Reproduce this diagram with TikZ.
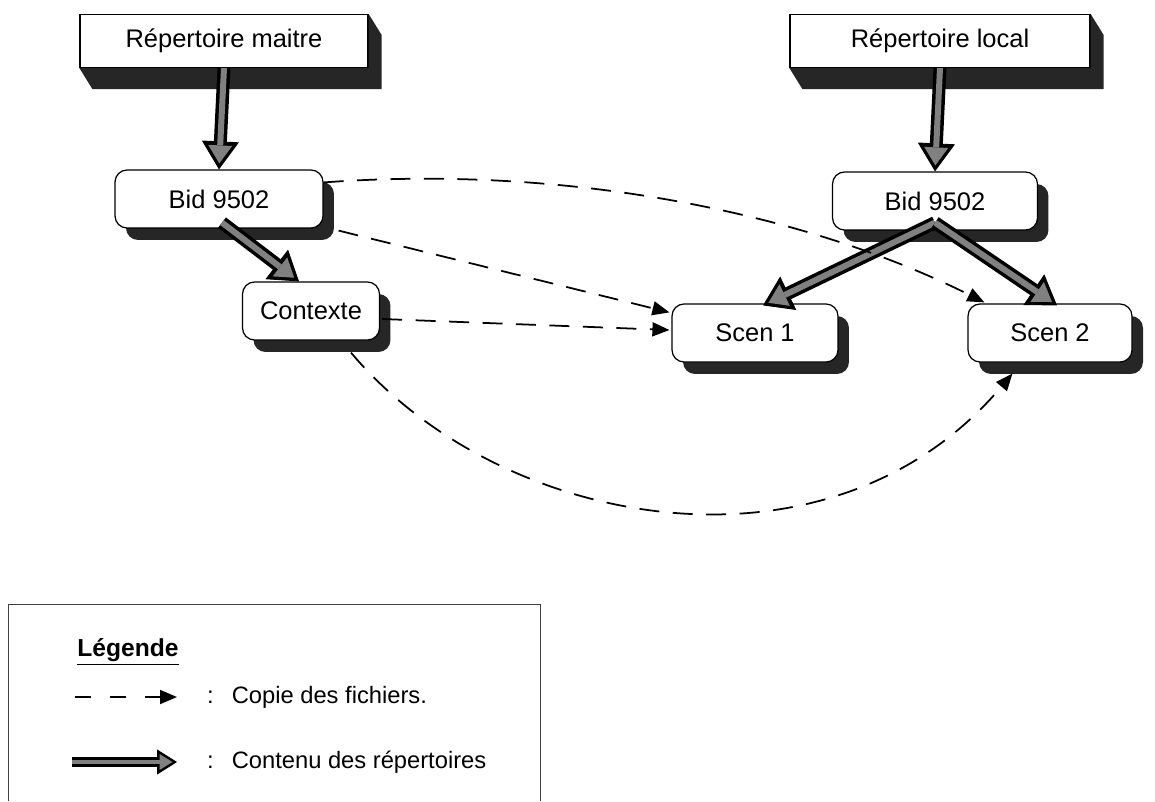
\documentclass[tikz,border=0pt]{standalone}
\usepackage{fontspec}
\setmainfont{Liberation Sans}
\usetikzlibrary{arrows.meta,calc,shadows}

\tikzset{
  repbox/.style={draw=black, line width=0.7pt, fill=white, minimum height=1.06cm},
  dirbox/.style={draw=black, line width=0.7pt, fill=white, rounded corners=0.24cm,
    minimum height=1.16cm,
    drop shadow={shadow xshift=0.22cm, shadow yshift=-0.24cm, fill=black!85, opacity=1}},
  copyarrow/.style={line width=1pt, dash pattern=on 0.4cm off 0.27cm,
    -{Triangle[length=0.34cm,width=0.28cm]}},
  contarrow/.style={line width=0.26cm, -{Triangle[length=0.56cm,width=0.74cm,line width=0.5pt]},
    postaction={draw=black!50, line width=0.12cm, shorten >=0.12cm,
      -{Triangle[length=0.36cm,width=0.48cm,line width=0pt]}}},
  legarrow/.style={line width=0.2cm, -{Triangle[length=0.4cm,width=0.5cm,line width=0.5pt]},
    postaction={draw=black!50, line width=0.09cm, shorten >=0.09cm,
      -{Triangle[length=0.26cm,width=0.32cm,line width=0pt]}}}
}

% slab under a directory box
\newcommand{\slab}[1]{%
  \fill[black!85] (#1.south west) -- ++(13,21) -- ($(#1.south east)+(13,21)$)
    -- ($(#1.north east)+(13,21)$) -- (#1.north east) -- (#1.south east) -- cycle;}

\begin{document}
\begin{tikzpicture}[x=0.02cm, y=-0.02cm, font=\fontsize{14.5}{17}\selectfont]
\useasboundingbox (0,0) rectangle (1155,801);

% directories
\node[repbox, minimum width=5.76cm] (maitre) at (224,41) {Répertoire maitre};
\slab{maitre}
\node[repbox, minimum width=6cm] (local) at (940,41) {Répertoire local};
\slab{local}

\node[dirbox, minimum width=4.16cm] (bidM) at (219,199) {Bid 9502};
\node[dirbox, minimum width=2.74cm] (contexte) at (311,311) {Contexte};
\node[dirbox, minimum width=4.1cm] (bidL) at (935,201) {Bid 9502};
\node[dirbox, minimum width=3.32cm] (scen1) at (755,333) {Scen 1};
\node[dirbox, minimum width=3.28cm] (scen2) at (1050,333) {Scen 2};

% contents
\draw[contarrow] (maitre.south) -- (bidM.north);
\draw[contarrow] (local.south) -- (bidL.north);
\draw[contarrow] ($(bidM.south)+(3,-6)$) -- ($(contexte.north)+(-12,0)$);
\draw[contarrow] ($(bidL.south)+(0,-8)$) -- ($(scen1.north)+(8,2)$);
\draw[contarrow] ($(bidL.south)+(0,-8)$) -- ($(scen2.north)+(7,2)$);

% copies
\draw[copyarrow] (bidM.9) .. controls (560,165) and (800,210) .. ($(scen2.north west)+(17,-1)$);
\draw[copyarrow] ($(bidM.south east)+(15,2)$) -- ($(scen1.north west)+(-2,9)$);
\draw[copyarrow] ($(contexte.east)+(2,8)$) -- ($(scen1.west)+(-2,-3)$);
\draw[copyarrow] ($(contexte.south)+(40,12)$) .. controls (500,530) and (830,590) .. ($(scen2.south west)+(45,11)$);

% legend
\draw[line width=0.5pt, black!75] (8,801) -- (8,604) -- (540,604) -- (540,801);
\node[font=\fontsize{14}{17}\selectfont\bfseries] (legende) at (128,652) {\underline{Légende}};
\coordinate (cpA) at (75,697);
\coordinate (cpB) at (177,697);
\draw[copyarrow, dash pattern=on 0.32cm off 0.38cm] (cpA) -- (cpB);
\node[anchor=west, font=\fontsize{13.5}{16}\selectfont] (cptext) at (201,697) {:\hspace{0.36cm}Copie des fichiers.};
\coordinate (ctA) at (72,762);
\coordinate (ctB) at (177,762);
\draw[legarrow] (ctA) -- (ctB);
\node[anchor=west, font=\fontsize{13.5}{16}\selectfont] (cttext) at (201,762) {:\hspace{0.36cm}Contenu des répertoires};
\end{tikzpicture}
\end{document}
